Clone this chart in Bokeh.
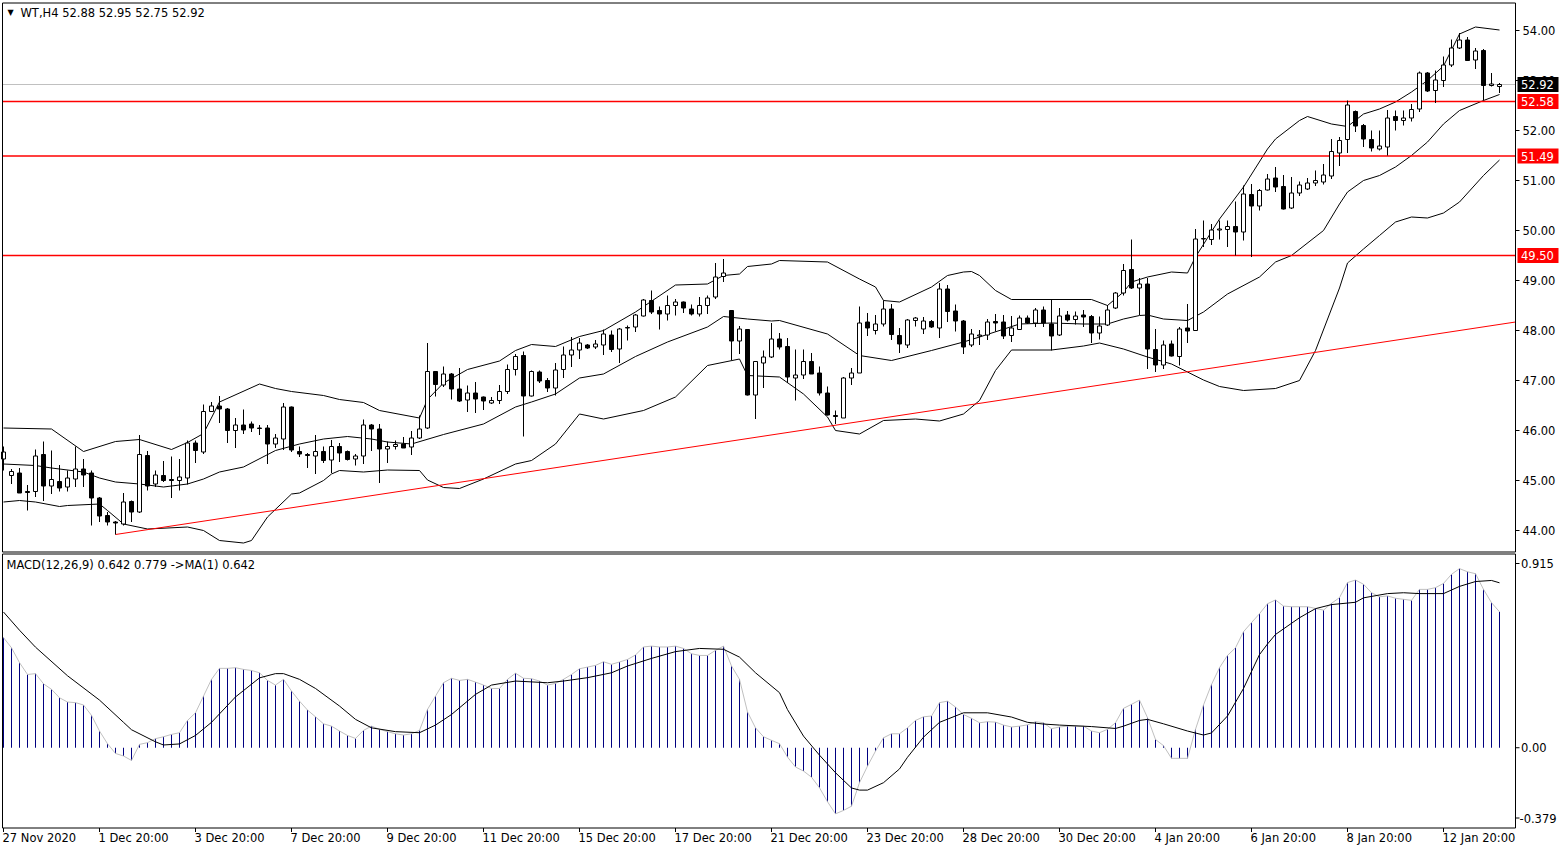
from bokeh.plotting import figure
from bokeh.models import Range1d, Label
from bokeh.core.properties import value
from bokeh.embed import file_html
from bokeh.resources import INLINE

# ---------------- data ----------------
opens = [45.43,45.10,45.15,44.78,44.78,45.52,44.89,44.98,44.87,45.03,
         45.23,45.15,44.65,44.30,44.17,44.13,44.58,44.37,45.50,44.93,
         45.10,45.02,45.00,45.05,45.75,45.57,46.38,46.49,46.43,46.00,
         46.11,46.13,46.05,46.05,45.73,45.83,46.47,45.58,45.52,45.49,
         45.58,45.41,45.68,45.58,45.43,45.49,46.11,46.03,45.63,45.68,
         45.73,45.67,45.85,46.05,47.18,46.91,47.13,46.83,46.61,46.75,
         46.67,46.55,46.60,46.78,47.22,47.50,46.69,47.17,47.00,46.85,
         47.22,47.51,47.61,47.71,47.67,47.71,47.91,47.63,48.06,48.07,
         48.29,48.60,48.40,48.33,48.50,48.57,48.43,48.33,48.50,48.67,
         49.08,48.40,47.79,48.02,46.71,47.35,47.47,47.83,47.68,47.05,
         47.11,47.38,47.15,46.75,46.30,46.25,47.05,47.15,48.17,48.00,
         48.13,48.43,47.90,47.71,48.20,48.03,48.18,48.05,48.83,48.39,
         48.19,47.71,47.89,47.91,48.18,48.17,47.90,48.02,48.25,48.15,
         48.41,48.13,47.91,48.31,48.22,48.31,48.28,47.95,48.11,48.45,
         48.75,49.22,48.85,48.93,47.62,47.31,47.73,47.48,48.05,48.00,
         49.83,49.82,50.01,50.02,50.08,49.97,50.72,50.49,50.81,51.05,
         50.88,50.45,50.75,50.83,50.95,50.97,51.09,51.55,51.82,52.38,
         52.10,51.82,51.63,51.67,52.28,52.20,52.25,52.43,53.15,52.80,
         53.00,53.31,53.65,53.81,53.41,53.60,52.90,52.88]
highs = [45.68,45.23,45.25,44.91,45.62,45.78,45.60,45.31,45.20,45.68,
         45.43,45.20,44.67,44.37,44.19,44.75,44.60,45.91,45.59,45.20,
         45.39,45.48,45.43,45.80,45.80,46.52,46.57,46.69,46.45,46.25,
         46.42,46.18,46.11,46.11,45.93,46.55,46.48,45.68,45.55,45.91,
         45.68,45.81,45.75,45.60,45.53,46.22,46.13,46.13,45.78,45.80,
         45.87,45.99,46.30,47.75,47.19,47.28,47.15,47.25,46.90,46.97,
         46.68,46.67,46.91,47.32,47.53,47.58,47.20,47.20,47.05,47.35,
         47.68,47.87,47.85,47.73,47.81,48.02,48.00,48.05,48.10,48.33,
         48.63,48.80,48.48,48.70,48.63,48.58,48.52,48.67,48.70,49.35,
         49.43,48.41,48.09,48.02,47.38,47.60,48.15,47.95,47.85,47.62,
         47.62,47.55,47.28,46.88,46.40,47.07,47.25,48.48,48.35,48.31,
         48.60,48.53,48.05,48.23,48.27,48.27,48.21,48.95,48.91,48.52,
         48.21,48.03,48.01,48.23,48.33,48.31,48.29,48.30,48.30,48.45,
         48.48,48.63,48.45,48.39,48.38,48.41,48.31,48.28,48.51,48.77,
         49.33,49.82,49.05,49.05,48.03,47.80,47.80,48.07,48.53,50.03,
         50.20,50.13,50.20,50.20,50.58,50.90,50.93,50.83,51.13,51.27,
         51.11,51.07,50.98,51.05,51.20,51.33,51.83,51.87,52.60,52.40,
         52.13,52.00,52.00,52.41,52.40,52.40,52.53,53.18,53.17,53.20,
         53.48,53.82,53.95,53.87,53.65,53.63,53.15,52.95]
lows = [45.20,44.93,44.75,44.40,44.67,44.59,44.73,44.78,44.78,44.87,
        44.87,44.10,44.17,44.10,43.92,44.10,44.17,44.35,44.80,44.87,
        44.97,44.65,44.80,44.92,45.35,45.53,46.37,46.15,45.75,45.65,
        45.93,45.97,45.91,45.33,45.65,45.61,45.57,45.47,45.25,45.13,
        45.35,45.15,45.37,45.40,45.30,45.33,45.59,44.95,45.35,45.62,
        45.65,45.51,45.83,46.03,46.68,46.87,46.62,46.57,46.37,46.35,
        46.41,46.53,46.53,46.73,47.10,45.88,46.68,46.95,46.77,46.70,
        47.05,47.27,47.43,47.63,47.63,47.51,47.57,47.35,47.80,47.97,
        48.28,48.33,48.02,48.20,48.30,48.35,48.30,48.28,48.33,48.63,
        48.97,47.41,47.53,46.70,46.23,46.85,47.45,47.62,46.95,46.60,
        47.03,47.13,46.70,46.30,46.13,46.25,46.91,47.15,47.89,47.92,
        48.08,47.81,47.55,47.65,48.08,47.93,48.05,47.85,48.17,47.98,
        47.53,47.67,47.71,47.81,47.98,47.83,47.77,48.01,48.13,48.07,
        48.07,47.60,47.89,48.18,48.12,48.07,47.75,47.82,48.09,48.43,
        48.70,48.83,48.31,47.23,47.17,47.23,47.48,47.30,47.75,47.99,
        49.67,49.71,49.82,49.67,49.50,49.80,49.47,50.40,50.80,50.77,
        50.42,50.43,50.69,50.81,50.89,50.92,51.03,51.29,51.55,51.97,
        51.67,51.58,51.60,51.50,52.00,52.10,52.18,52.37,52.77,52.55,
        52.87,53.27,53.63,53.40,53.23,52.60,52.88,52.75]
closes = [45.57,45.18,44.75,44.76,45.49,44.89,45.02,44.85,45.05,45.23,
          45.11,44.65,44.29,44.17,44.15,44.57,44.37,45.52,44.89,45.11,
          45.00,45.00,45.07,45.75,45.60,46.38,46.49,46.43,46.00,46.11,
          46.01,46.05,46.04,45.73,45.85,46.47,45.61,45.53,45.50,45.58,
          45.40,45.68,45.55,45.42,45.49,46.11,46.03,45.63,45.68,45.72,
          45.65,45.85,46.03,47.18,46.92,47.13,46.83,46.59,46.75,46.63,
          46.59,46.60,46.78,47.22,47.48,46.69,47.18,46.99,46.85,47.21,
          47.51,47.61,47.75,47.65,47.73,47.93,47.62,48.03,48.05,48.31,
          48.61,48.37,48.33,48.50,48.57,48.45,48.33,48.50,48.65,49.07,
          49.15,47.79,48.03,46.71,47.38,47.47,47.83,47.67,47.07,47.11,
          47.38,47.13,46.75,46.31,46.28,47.05,47.15,48.15,48.05,48.13,
          48.43,47.92,47.73,48.21,48.25,48.19,48.07,48.83,48.38,48.19,
          47.67,47.93,47.91,48.17,48.15,47.89,48.05,48.25,48.15,48.41,
          48.15,47.89,48.29,48.21,48.29,48.27,47.95,48.09,48.41,48.75,
          49.20,48.85,48.93,47.63,47.31,47.71,47.49,48.03,47.99,49.83,
          49.84,50.01,50.03,50.08,49.97,50.73,50.49,50.80,51.03,50.87,
          50.43,50.75,50.91,50.95,51.00,51.11,51.58,51.80,52.51,52.09,
          51.83,51.65,51.69,52.25,52.20,52.25,52.42,53.15,52.79,53.01,
          53.31,53.65,53.81,53.40,53.59,52.90,52.93,52.92]

upper_idx = [0,6,10,14,17,21,23,25,27,32,34,36,40,42,45,47,52,53,55,58,
             62,64,66,69,72,75,79,84,88,90,92,93,96,97,103,107,109,110,112,116,
             118,120,121,122,124,126,136,138,140,141,143,146,148,149,152,155,158,159,162,163,
             166,168,170,172,174,176,178,180,182,184,187]
upper_val = [46.05,46.03,45.58,45.78,45.82,45.62,45.76,45.94,46.57,46.93,
             46.84,46.78,46.70,46.62,46.56,46.40,46.25,46.62,46.95,47.22,
             47.39,47.60,47.72,47.68,47.88,48.00,48.37,48.91,48.93,49.10,
             49.13,49.28,49.33,49.40,49.37,49.03,48.87,48.60,48.57,48.87,
             49.10,49.17,49.18,49.10,48.80,48.62,48.62,48.50,48.77,48.97,
             49.07,49.17,49.15,49.47,50.23,50.87,51.63,51.83,52.20,52.28,
             52.13,52.08,52.33,52.43,52.57,52.77,53.00,53.29,53.93,54.07,
             54.01]
middle_idx = [0,4,6,10,12,14,17,20,23,25,27,30,34,37,40,43,46,48,51,55,
              60,64,66,69,72,75,79,83,88,90,93,96,97,103,107,111,116,120,122,127,
              131,135,138,140,142,143,145,148,150,153,157,159,161,165,167,168,170,172,174,176,
              178,180,182,185,187]
middle_val = [45.33,45.30,45.25,45.17,45.05,44.97,44.93,44.87,44.93,45.03,
              45.17,45.27,45.60,45.73,45.83,45.88,45.83,45.77,45.73,45.92,
              46.13,46.47,46.57,46.73,47.05,47.13,47.48,47.77,48.07,48.28,
              48.23,48.19,48.20,47.93,47.50,47.40,47.60,47.77,47.87,48.13,
              48.15,48.13,48.13,48.23,48.30,48.31,48.23,48.20,48.37,48.73,
              49.07,49.37,49.50,50.00,50.53,50.77,51.00,51.10,51.27,51.50,
              51.77,52.13,52.40,52.60,52.72]
lower_idx = [0,2,4,7,8,12,13,15,18,23,25,27,30,31,33,36,37,40,41,42,
             45,48,52,53,55,57,60,64,66,69,72,75,80,84,88,92,93,97,100,103,
             104,107,110,114,117,120,122,124,126,131,135,137,140,143,146,148,150,152,155,159,
             162,164,167,168,170,172,174,176,178,180,182,185,187]
lower_val = [44.57,44.60,44.57,44.48,44.50,44.53,44.40,44.13,44.03,44.07,
             44.00,43.80,43.75,43.80,44.27,44.73,44.75,45.00,45.13,45.20,
             45.17,45.21,45.20,45.01,44.86,44.84,45.03,45.33,45.40,45.73,
             46.33,46.23,46.40,46.67,47.30,47.43,47.10,47.07,46.73,46.27,
             46.00,45.93,46.20,46.23,46.19,46.33,46.60,47.20,47.61,47.61,
             47.69,47.75,47.63,47.47,47.33,47.17,47.01,46.88,46.80,46.84,
             47.00,47.60,48.85,49.35,49.63,49.90,50.17,50.27,50.25,50.35,
             50.57,51.10,51.41]

trend_idx = [14, 189]
trend_val = [43.92, 48.17]
red_levels = [52.58, 51.49, 49.50]
last_price = 52.92
price_ticks = [44, 45, 46, 47, 48, 49, 50, 51, 52, 53, 54]

macd = [0.520,0.472,0.402,0.346,0.350,0.302,0.276,0.236,0.216,0.213,
        0.202,0.153,0.079,0.019,-0.027,-0.039,-0.060,0.016,0.024,0.043,
        0.052,0.063,0.071,0.129,0.165,0.244,0.323,0.375,0.375,0.378,
        0.370,0.365,0.354,0.318,0.296,0.323,0.268,0.220,0.178,0.146,
        0.113,0.102,0.079,0.058,0.044,0.082,0.102,0.087,0.076,0.066,
        0.060,0.066,0.082,0.181,0.244,0.307,0.328,0.318,0.323,0.310,
        0.296,0.280,0.280,0.323,0.352,
        0.328,0.326,0.315,0.296,0.304,0.323,0.346,0.373,0.381,0.389,
        0.406,0.394,0.405,0.417,0.438,0.476,0.480,0.476,0.476,0.480,
        0.469,0.444,0.436,0.436,0.460,0.480,0.386,0.323,0.169,0.094,
        0.052,0.035,0.019,-0.044,-0.091,-0.110,-0.139,-0.189,-0.255,-0.312,
        -0.296,-0.276,-0.165,-0.087,-0.016,0.047,0.066,0.066,0.094,0.129,
        0.146,0.150,0.213,0.220,0.192,0.157,0.139,0.118,0.123,0.121,
        0.107,0.098,0.102,0.108,
        0.123,0.118,0.090,0.098,0.102,0.102,0.102,0.079,0.071,0.087,
        0.118,0.186,0.205,0.225,0.142,0.039,0.010,-0.050,-0.050,-0.050,
        0.087,0.202,0.299,0.378,0.436,0.472,0.548,0.591,0.633,0.680,
        0.698,0.669,0.666,0.666,0.666,0.658,0.650,0.682,0.709,0.780,
        0.792,0.772,0.732,0.713,0.717,0.706,0.701,0.696,0.748,0.748,
        0.756,0.776,0.819,0.846,0.831,0.822,0.748,0.685,0.642]
signal_idx = [0,2,4,8,12,15,16,19,20,22,24,26,29,32,34,35,37,39,42,44,
              46,49,52,54,56,59,61,64,68,70,73,76,78,81,84,87,90,92,94,97,
              98,100,102,104,106,107,108,110,112,113,115,117,120,123,126,128,130,132,136,139,
              140,142,143,145,148,150,151,153,155,157,158,159,162,164,166,169,170,173,175,177,
              180,182,184,186,187]
signal_val = [0.641,0.555,0.475,0.340,0.225,0.120,0.085,0.028,0.013,0.018,
              0.058,0.120,0.240,0.330,0.350,0.350,0.323,0.280,0.197,0.134,
              0.094,0.076,0.071,0.107,0.157,0.252,0.296,0.315,0.307,0.315,
              0.331,0.354,0.386,0.422,0.454,0.469,0.465,0.428,0.354,0.260,
              0.180,0.055,-0.035,-0.118,-0.190,-0.200,-0.200,-0.165,-0.100,-0.045,
              0.050,0.120,0.165,0.165,0.145,0.120,0.112,0.107,0.100,0.091,
              0.102,0.129,0.134,0.113,0.079,0.060,0.070,0.150,0.280,0.440,
              0.490,0.535,0.614,0.657,0.676,0.687,0.708,0.728,0.732,0.728,
              0.728,0.762,0.785,0.790,0.779]
macd_max = 0.915
macd_min = -0.379
macd_tick_labels = ["0.915", "0.00", "-0.379"]

date_ticks = [0, 12, 24, 36, 48, 60, 72, 84, 96, 108, 120, 132, 144, 156, 168, 180]
date_labels = ["27 Nov 2020", "1 Dec 20:00", "3 Dec 20:00", "7 Dec 20:00", "9 Dec 20:00",
               "11 Dec 20:00", "15 Dec 20:00", "17 Dec 20:00", "21 Dec 20:00", "23 Dec 20:00",
               "28 Dec 20:00", "30 Dec 20:00", "4 Jan 20:00", "6 Jan 20:00", "8 Jan 20:00",
               "12 Jan 20:00"]

# ---------------- layout (pixels) ----------------
FONT = value("DejaVu Sans")
FS = "11.5px"
W, H = 1564, 848
PPB = 8.0                       # pixels per bar
X0 = -3.0 / PPB                 # bar position at the canvas' left edge
XMAX = X0 + W / PPB
AX = X0 + 1515.0 / PPB          # price-axis line
XL = X0 + 2.0 / PPB             # left border
PPU = 50.0                      # pixels per price unit
P_TOP = 54.6                    # price at the canvas' top edge
MPU = 274.0 / (macd_max - macd_min)
MACD_TOP_PX = 553.5
M_TOP = macd_max + MACD_TOP_PX / MPU


def dx(px):
    return px / PPB


def dp(px):
    return px / PPU


def dm(px):
    return px / MPU


p = figure(width=W, height=H, x_range=Range1d(X0, XMAX),
           y_range=Range1d(P_TOP - H / PPU, P_TOP),
           extra_y_ranges={"macd": Range1d(M_TOP - H / MPU, M_TOP)},
           x_axis_location=None, y_axis_location=None,
           output_backend="svg", toolbar_location=None,
           min_border=0, outline_line_color=None,
           background_fill_color="white", border_fill_color="white")
p.grid.visible = False

PT = P_TOP - dp(2.5)
PB = P_TOP - dp(551.5)

# ----- main panel -----
p.line(upper_idx, upper_val, line_color="black", line_width=1)
p.line(middle_idx, middle_val, line_color="black", line_width=1)
p.line(lower_idx, lower_val, line_color="black", line_width=1)

p.segment(x0=[XL], y0=[last_price], x1=[AX], y1=[last_price], line_color="#c0c0c0", line_width=1)
p.segment(x0=[XL] * len(red_levels), y0=red_levels, x1=[AX] * len(red_levels), y1=red_levels,
          line_color="#ff0000", line_width=1.5)
p.line(trend_idx, trend_val, line_color="#ff0000", line_width=1)

idx = list(range(len(closes)))
up = [i for i in idx if closes[i] >= opens[i]]
dn = [i for i in idx if closes[i] < opens[i]]
p.segment(x0=idx, y0=lows, x1=idx, y1=highs, line_color="black", line_width=1)
p.vbar(x=up, width=0.5, top=[closes[i] for i in up], bottom=[opens[i] for i in up],
       fill_color="white", line_color="black", line_width=1)
p.vbar(x=dn, width=0.5, top=[opens[i] for i in dn], bottom=[closes[i] for i in dn],
       fill_color="black", line_color="black", line_width=1)

# borders of main panel
p.line([AX, XL, XL, AX], [PT, PT, PB, PB], line_color="black", line_width=1)
p.segment(x0=[AX], y0=[PB], x1=[AX], y1=[PT], line_color="black", line_width=1)

# price axis ticks & labels
p.segment(x0=[AX] * len(price_ticks), y0=price_ticks, x1=[AX + dx(4)] * len(price_ticks),
          y1=price_ticks, line_color="black", line_width=1)
p.text(x=[AX + dx(7)] * len(price_ticks), y=price_ticks,
       text=["%.2f" % t for t in price_ticks], text_font=FONT, text_font_size=FS,
       text_color="black", text_align="left", text_baseline="middle")

# price boxes on axis
box_levels = [last_price] + red_levels
box_colors = ["black"] + ["#ff0000"] * len(red_levels)
p.rect(x=[AX + dx(22.5)] * len(box_levels), y=box_levels, width=41, height=15,
       width_units="screen", height_units="screen", fill_color=box_colors, line_color=None)
p.text(x=[AX + dx(5.5)] * len(box_levels), y=box_levels, text=["%.2f" % v for v in box_levels],
       text_font=FONT, text_font_size=FS, text_color="white", text_align="left",
       text_baseline="middle")

# header
p.add_layout(Label(x=X0 + dx(7), y=P_TOP - dp(12), text="▼", text_font="DejaVu Sans",
                   text_font_size="8px", text_color="black", text_baseline="middle",
                   text_align="left"))
p.add_layout(Label(x=X0 + dx(20), y=P_TOP - dp(12), text="WT,H4  52.88 52.95 52.75 52.92",
                   text_font="DejaVu Sans", text_font_size=FS, text_color="black",
                   text_baseline="middle", text_align="left"))

# ----- MACD panel -----
MT = macd_max
MB = macd_min
p.segment(x0=idx, y0=[0] * len(idx), x1=idx, y1=macd, line_color="#000080", line_width=1,
          y_range_name="macd")
p.line(idx, macd, line_color="#c0c0c0", line_width=1, y_range_name="macd")
p.line(signal_idx, signal_val, line_color="black", line_width=1, y_range_name="macd")

p.line([AX, XL, XL, AX], [MT, MT, MB, MB], line_color="black", line_width=1, y_range_name="macd")
p.segment(x0=[AX], y0=[MB], x1=[AX], y1=[MT], line_color="black", line_width=1,
          y_range_name="macd")

macd_label_pos = [MT - dm(9.5), 0.0, MB + dm(10)]
p.segment(x0=[AX] * 3, y0=macd_label_pos, x1=[AX + dx(4)] * 3, y1=macd_label_pos,
          line_color="black", line_width=1, y_range_name="macd")
p.text(x=[AX + dx(5.5), AX + dx(5.5), AX + dx(4)], y=macd_label_pos, text=macd_tick_labels,
       text_font=FONT, text_font_size=FS, text_color="black", text_align="left",
       text_baseline="middle", y_range_name="macd")

p.add_layout(Label(x=X0 + dx(6), y=MT - dm(11), text="MACD(12,26,9) 0.642 0.779  ->MA(1) 0.642",
                   text_font="DejaVu Sans", text_font_size=FS, text_color="black",
                   text_baseline="middle", text_align="left", y_range_name="macd"))

# date axis
p.segment(x0=date_ticks, y0=[MB] * len(date_ticks), x1=date_ticks,
          y1=[MB - dm(4)] * len(date_ticks), line_color="black", line_width=1,
          y_range_name="macd")
p.text(x=[t - dx(1) for t in date_ticks], y=[MB - dm(10)] * len(date_ticks), text=date_labels,
       text_font=FONT, text_font_size=FS, text_color="black", text_align="left",
       text_baseline="middle", y_range_name="macd")

open("out.html", "w").write(file_html(p, INLINE))
